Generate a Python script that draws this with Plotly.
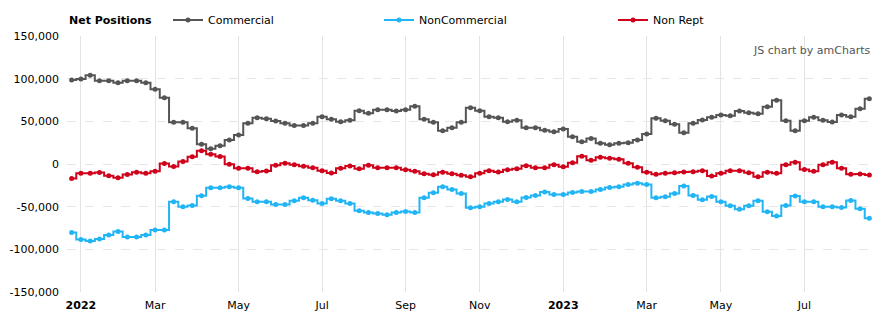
import pandas as pd
import plotly.graph_objects as go

# Weekly report dates (Tuesdays)
start_date = "2021-12-28"
n_weeks = 87
dates = pd.date_range(start_date, periods=n_weeks, freq="7D")

commercial = [98400, 99600, 104000, 97700, 97700, 95300, 97700, 97700, 95300, 87500,
              77700, 48800, 48800, 41800, 23000, 18000, 21500, 28000, 34000, 47700,
              54300, 53000, 50400, 47700, 45000, 45000, 47700, 55500, 52300, 49600,
              51200, 62500, 59400, 63700, 63700, 62000, 63700, 67600, 52300, 48800,
              39000, 42600, 48800, 66000, 62500, 55500, 54300, 49600, 51200, 42600,
              42600, 39500, 37900, 41000, 32000, 26200, 30000, 24200, 22700, 24200,
              25000, 28100, 35200, 53500, 50800, 46500, 36700, 47700, 51600, 54700,
              57400, 56600, 62100, 60200, 59000, 67200, 74600, 50800, 39000, 50800,
              54700, 51200, 49200, 57400, 55500, 64800, 76600]

noncommercial = [-80400, -88600, -90200, -87800, -83100, -79200, -85500, -85500, -83100, -77300,
                 -77300, -44300, -50200, -48600, -37300, -27800, -27800, -26700, -27800, -40400,
                 -44300, -44300, -47500, -47500, -43100, -39600, -42400, -46300, -40800, -43100,
                 -46300, -54900, -56900, -58000, -59600, -56900, -55700, -56900, -39600, -33700,
                 -26700, -29800, -34500, -51400, -50200, -46300, -44300, -41600, -44300, -39200,
                 -36900, -32900, -35700, -35700, -33300, -32200, -32200, -29800, -27500, -26700,
                 -23900, -22700, -23900, -39600, -38400, -34500, -25900, -36900, -42000, -38000,
                 -44300, -49000, -52900, -49000, -43100, -56100, -60800, -48600, -37600, -44300,
                 -44300, -50200, -50200, -51000, -42700, -52500, -63500]

non_rept = [-17000, -10900, -10900, -10000, -13700, -16000, -12300, -9800, -10900, -8600,
            600, -2900, 2900, 8600, 15400, 11300, 8800, -400, -5100, -5100,
            -9000, -8200, -1600, 800, -800, -2700, -4300, -7800, -10500, -5100,
            -2300, -5500, -1600, -4300, -4300, -4300, -6600, -8600, -11300, -12500,
            -9800, -11300, -13300, -14800, -10900, -7800, -9400, -6600, -5500, -2000,
            -4300, -4300, -800, -3100, 1600, 9000, 4300, 7800, 6600, 5500,
            800, -3900, -9800, -12100, -10900, -10200, -9400, -9000, -7800, -14100,
            -10900, -7800, -7800, -10200, -14800, -9800, -10900, -800, 2000, -6300,
            -8600, -800, 2000, -5100, -12100, -11700, -12900]

tick_dates = ["2022-01-04", "2022-03-01", "2022-05-03", "2022-07-05", "2022-09-06",
              "2022-11-01", "2023-01-03", "2023-03-07", "2023-05-02", "2023-07-04"]
tick_labels = ["<b>2022</b>", "Mar", "May", "Jul", "Sep", "Nov", "<b>2023</b>", "Mar", "May", "Jul"]

series_names = ["Commercial", "NonCommercial", "Non Rept"]
series_colors = ["#555555", "#22b5f5", "#d0021b"]
series_values = [commercial, noncommercial, non_rept]
legend_ids = ["legend", "legend2", "legend3"]
legend_px = [168, 379, 613]

W, H = 886, 325
ML, MR, MT, MB = 67, 12, 36, 33
PW, PH = W - ML - MR, H - MT - MB
FONT = "DejaVu Sans"

def px_x(px):
    return (px - ML) / PW

def px_y(py):
    return 1 - (py - MT) / PH

fig = go.Figure()
for name, color, vals, lg in zip(series_names, series_colors, series_values, legend_ids):
    fig.add_trace(go.Scatter(
        x=dates, y=vals, name=name, mode="lines+markers",
        line=dict(color=color, width=2, shape="hvh"),
        marker=dict(color=color, size=5),
        legend=lg,
    ))

x_range = [dates[0] - pd.Timedelta(days=3.5), dates[-1] + pd.Timedelta(days=3.5)]

legend_common = dict(orientation="h", xref="paper", yref="paper",
                     yanchor="middle", xanchor="left", bgcolor="rgba(0,0,0,0)",
                     font=dict(family=FONT, size=11, color="#000000"),
                     itemwidth=30)

layout_legends = {}
for lg, px in zip(legend_ids, legend_px):
    layout_legends[lg] = dict(legend_common, x=px_x(px), y=px_y(20))

fig.update_layout(
    width=W, height=H,
    margin=dict(l=ML, r=MR, t=MT, b=MB, autoexpand=False),
    paper_bgcolor="white", plot_bgcolor="white",
    font=dict(family=FONT, size=11, color="#000000"),
    showlegend=True,
    **layout_legends,
    xaxis=dict(
        type="date", range=x_range,
        tickmode="array", tickvals=tick_dates, ticktext=tick_labels,
        showgrid=True, gridcolor="#e3e3e3", gridwidth=1,
        zeroline=False, showline=False, ticks="",
        ticklabelstandoff=5,
        tickfont=dict(family=FONT, size=11, color="#000000"),
    ),
    yaxis=dict(
        range=[-150000, 150000], tickmode="array",
        tickvals=[-150000, -100000, -50000, 0, 50000, 100000, 150000],
        ticktext=["-150,000", "-100,000", "-50,000", "0", "50,000", "100,000", "150,000"],
        showgrid=True, gridcolor="#e6e6e6", griddash="dash", gridwidth=1,
        zeroline=False, showline=False, ticks="",
        ticklabelstandoff=7,
        tickfont=dict(family=FONT, size=11, color="#000000"),
    ),
    annotations=[
        dict(text="<b>Net Positions</b>", xref="paper", yref="paper",
             x=px_x(67), y=px_y(20),
             xanchor="left", yanchor="middle", showarrow=False,
             font=dict(family=FONT, size=11, color="#000000")),
        dict(text="JS chart by amCharts", xref="paper", yref="paper",
             x=px_x(872), y=px_y(50),
             xanchor="right", yanchor="middle", showarrow=False,
             font=dict(family=FONT, size=11, color="#555555")),
    ],
)

fig.write_html("out.html")
